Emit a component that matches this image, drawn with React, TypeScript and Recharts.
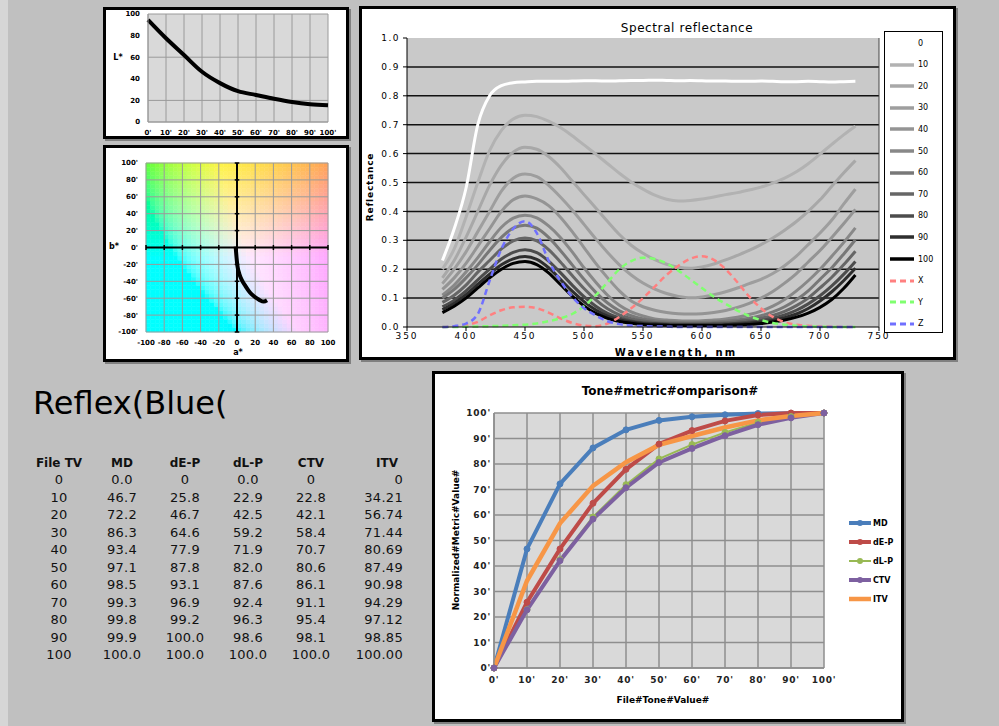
import React from 'react';
import {
  CartesianGrid,
  ComposedChart,
  Line,
  LineChart,
  ReferenceArea,
  ReferenceLine,
  XAxis,
  YAxis,
} from 'recharts';

const FONT = '"DejaVu Sans", Verdana, sans-serif';

// tone steps shared by every panel
const TONE_VALUES = [0, 10, 20, 30, 40, 50, 60, 70, 80, 90, 100];

// L* per tone step (top-left panel)
const L_STAR = [94.5, 77.5, 62, 46.5, 36, 28.5, 25, 21.5, 18.5, 16.5, 15.5];

// a*b* trace per tone step
const A_STAR = [-1.5, -0.5, 0.5, 2.5, 5.5, 9.5, 14, 19, 24.5, 29.5, 33];
const B_STAR = [1, -12, -22, -31, -39, -46, -53, -58, -62, -64, -62.5];
const AB_TICKS = [-100, -80, -60, -40, -20, 0, 20, 40, 60, 80, 100];

// spectral reflectance, 380-730 nm
const WAVELENGTHS = [
  380, 390, 400, 410, 420, 430, 440, 450, 460, 470, 480, 490, 500, 510, 520, 530, 540, 550,
  560, 570, 580, 590, 600, 610, 620, 630, 640, 650, 660, 670, 680, 690, 700, 710, 720, 730,
];
const REFL_0 = [0.23, 0.34, 0.48, 0.7, 0.8, 0.835, 0.845, 0.848, 0.85, 0.85, 0.85, 0.851, 0.852, 0.852, 0.851, 0.852, 0.853, 0.853, 0.854, 0.853, 0.852, 0.853, 0.852, 0.851, 0.851, 0.85, 0.85, 0.851, 0.85, 0.849, 0.849, 0.85, 0.849, 0.848, 0.849, 0.85];
const REFL_10 = [0.2, 0.27, 0.38, 0.5, 0.61, 0.68, 0.72, 0.733, 0.728, 0.712, 0.69, 0.662, 0.63, 0.598, 0.565, 0.532, 0.502, 0.477, 0.456, 0.442, 0.436, 0.438, 0.443, 0.45, 0.458, 0.465, 0.474, 0.484, 0.498, 0.515, 0.537, 0.565, 0.598, 0.632, 0.665, 0.695];
const REFL_20 = [0.17, 0.23, 0.31, 0.4, 0.49, 0.56, 0.605, 0.622, 0.615, 0.59, 0.552, 0.505, 0.458, 0.412, 0.365, 0.32, 0.283, 0.255, 0.233, 0.217, 0.207, 0.203, 0.208, 0.218, 0.232, 0.248, 0.265, 0.285, 0.308, 0.335, 0.365, 0.4, 0.44, 0.487, 0.533, 0.576];
const REFL_30 = [0.15, 0.2, 0.26, 0.33, 0.4, 0.47, 0.515, 0.529, 0.52, 0.49, 0.45, 0.405, 0.355, 0.305, 0.258, 0.215, 0.18, 0.152, 0.131, 0.116, 0.106, 0.101, 0.104, 0.112, 0.122, 0.135, 0.15, 0.165, 0.185, 0.212, 0.245, 0.285, 0.325, 0.37, 0.425, 0.477];
const REFL_40 = [0.13, 0.17, 0.22, 0.28, 0.34, 0.4, 0.44, 0.453, 0.443, 0.42, 0.38, 0.33, 0.275, 0.22, 0.17, 0.125, 0.09, 0.07, 0.058, 0.05, 0.046, 0.045, 0.046, 0.05, 0.057, 0.068, 0.082, 0.1, 0.123, 0.152, 0.185, 0.225, 0.265, 0.31, 0.357, 0.407];
const REFL_50 = [0.11, 0.145, 0.19, 0.24, 0.295, 0.345, 0.377, 0.387, 0.378, 0.35, 0.31, 0.26, 0.205, 0.155, 0.11, 0.075, 0.052, 0.038, 0.028, 0.024, 0.022, 0.021, 0.022, 0.024, 0.028, 0.034, 0.043, 0.055, 0.072, 0.095, 0.125, 0.16, 0.2, 0.245, 0.292, 0.343];
const REFL_60 = [0.1, 0.13, 0.17, 0.215, 0.265, 0.31, 0.342, 0.352, 0.342, 0.31, 0.265, 0.215, 0.165, 0.12, 0.083, 0.056, 0.039, 0.028, 0.022, 0.018, 0.016, 0.015, 0.016, 0.017, 0.02, 0.024, 0.03, 0.039, 0.052, 0.07, 0.094, 0.125, 0.165, 0.205, 0.252, 0.302];
const REFL_70 = [0.085, 0.11, 0.145, 0.19, 0.23, 0.27, 0.298, 0.308, 0.298, 0.268, 0.225, 0.178, 0.133, 0.094, 0.063, 0.042, 0.029, 0.021, 0.016, 0.013, 0.012, 0.012, 0.012, 0.013, 0.015, 0.018, 0.023, 0.03, 0.04, 0.054, 0.074, 0.1, 0.135, 0.172, 0.215, 0.262];
const REFL_80 = [0.07, 0.093, 0.125, 0.163, 0.2, 0.235, 0.258, 0.267, 0.257, 0.228, 0.188, 0.145, 0.105, 0.072, 0.047, 0.031, 0.021, 0.015, 0.012, 0.01, 0.009, 0.009, 0.009, 0.01, 0.011, 0.013, 0.017, 0.022, 0.03, 0.042, 0.058, 0.08, 0.108, 0.142, 0.182, 0.227];
const REFL_90 = [0.06, 0.082, 0.112, 0.148, 0.183, 0.215, 0.236, 0.244, 0.234, 0.205, 0.165, 0.124, 0.088, 0.059, 0.038, 0.025, 0.017, 0.012, 0.01, 0.008, 0.007, 0.007, 0.007, 0.007, 0.008, 0.01, 0.013, 0.017, 0.023, 0.032, 0.045, 0.064, 0.09, 0.122, 0.16, 0.203];
const REFL_100 = [0.05, 0.072, 0.1, 0.135, 0.17, 0.2, 0.22, 0.227, 0.216, 0.187, 0.147, 0.107, 0.073, 0.047, 0.03, 0.019, 0.013, 0.009, 0.007, 0.006, 0.005, 0.005, 0.005, 0.005, 0.006, 0.007, 0.009, 0.012, 0.017, 0.024, 0.034, 0.048, 0.068, 0.095, 0.133, 0.18];
const CMF_X = [0, 0.002, 0.006, 0.018, 0.04, 0.058, 0.068, 0.07, 0.065, 0.05, 0.03, 0.014, 0.005, 0.003, 0.012, 0.035, 0.065, 0.1, 0.14, 0.18, 0.212, 0.236, 0.245, 0.232, 0.2, 0.155, 0.105, 0.065, 0.035, 0.017, 0.008, 0.004, 0.002, 0.001, 0, 0];
const CMF_Y = [0, 0, 0.001, 0.002, 0.003, 0.004, 0.006, 0.008, 0.012, 0.02, 0.03, 0.045, 0.072, 0.11, 0.155, 0.2, 0.228, 0.24, 0.235, 0.22, 0.195, 0.165, 0.135, 0.105, 0.08, 0.057, 0.038, 0.024, 0.014, 0.008, 0.004, 0.002, 0.001, 0, 0, 0];
const CMF_Z = [0, 0.003, 0.012, 0.045, 0.16, 0.27, 0.34, 0.366, 0.325, 0.23, 0.16, 0.105, 0.065, 0.04, 0.02, 0.01, 0.005, 0.003, 0.002, 0.001, 0, 0, 0, 0, 0, 0, 0, 0, 0, 0, 0, 0, 0, 0, 0, 0];

// tone metric table (also the bottom chart)
const MD = [0, 46.7, 72.2, 86.3, 93.4, 97.1, 98.5, 99.3, 99.8, 99.9, 100];
const DE_P = [0, 25.8, 46.7, 64.6, 77.9, 87.8, 93.1, 96.9, 99.2, 100, 100];
const DL_P = [0, 22.9, 42.5, 59.2, 71.9, 82.0, 87.6, 92.4, 96.3, 98.6, 100];
const CTV = [0, 22.8, 42.1, 58.4, 70.7, 80.6, 86.1, 91.1, 95.4, 98.1, 100];
const ITV = [0, 34.21, 56.74, 71.44, 80.69, 87.49, 90.98, 94.29, 97.12, 98.85, 100];

const SPECTRAL_SERIES = [
  { key: 'r0', name: '0', values: REFL_0, color: '#ffffff', width: 3, dash: undefined },
  { key: 'r10', name: '10', values: REFL_10, color: '#b2b2b2', width: 3, dash: undefined },
  { key: 'r20', name: '20', values: REFL_20, color: '#a8a8a8', width: 3, dash: undefined },
  { key: 'r30', name: '30', values: REFL_30, color: '#9e9e9e', width: 3, dash: undefined },
  { key: 'r40', name: '40', values: REFL_40, color: '#949494', width: 3, dash: undefined },
  { key: 'r50', name: '50', values: REFL_50, color: '#888888', width: 3, dash: undefined },
  { key: 'r60', name: '60', values: REFL_60, color: '#787878', width: 3, dash: undefined },
  { key: 'r70', name: '70', values: REFL_70, color: '#666666', width: 3, dash: undefined },
  { key: 'r80', name: '80', values: REFL_80, color: '#4c4c4c', width: 3, dash: undefined },
  { key: 'r90', name: '90', values: REFL_90, color: '#2e2e2e', width: 3, dash: undefined },
  { key: 'r100', name: '100', values: REFL_100, color: '#000000', width: 3, dash: undefined },
  { key: 'x', name: 'X', values: CMF_X, color: '#ff8080', width: 2.5, dash: '6 4' },
  { key: 'y', name: 'Y', values: CMF_Y, color: '#80ff70', width: 2.5, dash: '6 4' },
  { key: 'z', name: 'Z', values: CMF_Z, color: '#7070ff', width: 2.5, dash: '6 4' },
];

const TONE_SERIES = [
  { key: 'md', name: 'MD', values: MD, color: '#4a7ebb', width: 4, dots: true },
  { key: 'dep', name: 'dE-P', values: DE_P, color: '#be4b48', width: 4, dots: true },
  { key: 'dlp', name: 'dL-P', values: DL_P, color: '#98b954', width: 2, dots: true },
  { key: 'ctv', name: 'CTV', values: CTV, color: '#7d60a0', width: 4, dots: true },
  { key: 'itv', name: 'ITV', values: ITV, color: '#f79646', width: 4.5, dots: false },
];

const TABLE_COLUMNS = [
  { title: 'File TV', values: TONE_VALUES, digits: 0, zero: '0', center: 59 },
  { title: 'MD', values: MD, digits: 1, zero: '0.0', center: 122 },
  { title: 'dE-P', values: DE_P, digits: 1, zero: '0', center: 185 },
  { title: 'dL-P', values: DL_P, digits: 1, zero: '0.0', center: 248 },
  { title: 'CTV', values: CTV, digits: 1, zero: '0', center: 311 },
  { title: 'ITV', values: ITV, digits: 2, zero: '0', center: 387 },
];

const lData = TONE_VALUES.map((tv, i) => ({ tv, l: L_STAR[i] }));
const abData = TONE_VALUES.map((tv, i) => ({ tv, a: A_STAR[i], b: B_STAR[i] }));
const spectralData = WAVELENGTHS.map((w, i) => {
  const row: Record<string, number> = { w };
  SPECTRAL_SERIES.forEach((s) => (row[s.key] = s.values[i]));
  return row;
});
const toneData = TONE_VALUES.map((tv, i) => {
  const row: Record<string, number> = { tv };
  TONE_SERIES.forEach((s) => (row[s.key] = s.values[i]));
  return row;
});

// CIELAB -> sRGB for the a*b* background
function labColor(L: number, a: number, b: number) {
  const fy = (L + 16) / 116;
  const fx = fy + a / 500;
  const fz = fy - b / 200;
  const inv = (t: number) => (t * t * t > 0.008856 ? t * t * t : (t - 16 / 116) / 7.787);
  const X = 0.95047 * inv(fx);
  const Y = inv(fy);
  const Z = 1.08883 * inv(fz);
  const lin = [
    3.2406 * X - 1.5372 * Y - 0.4986 * Z,
    -0.9689 * X + 1.8758 * Y + 0.0415 * Z,
    0.0557 * X - 0.204 * Y + 1.057 * Z,
  ];
  const c = lin.map((v) => {
    const g = v <= 0.0031308 ? 12.92 * v : 1.055 * Math.pow(Math.max(v, 0), 1 / 2.4) - 0.055;
    return Math.round(Math.min(1, Math.max(0, g)) * 255);
  });
  return `rgb(${c[0]},${c[1]},${c[2]})`;
}

const abCells: { x1: number; x2: number; y1: number; y2: number; fill: string }[] = [];
for (let a = -100; a < 100; a += 5) {
  for (let b = -100; b < 100; b += 5) {
    abCells.push({ x1: a, x2: a + 5, y1: b, y2: b + 5, fill: labColor(94, (a + 2.5) * 0.8, (b + 2.5) * 0.8) });
  }
}

const panel = (left: number, top: number, width: number, height: number): React.CSSProperties => ({
  position: 'absolute',
  left,
  top,
  width,
  height,
  boxSizing: 'border-box',
  border: '3px solid #000',
  background: '#fff',
  boxShadow: '2px 2px 0 #808080',
});

function Txt({
  x,
  y,
  children,
  size = 10,
  weight = 'normal',
  rotate = 0,
  spacing = 0,
  anchor = 'middle',
}: {
  x: number;
  y: number;
  children: React.ReactNode;
  size?: number;
  weight?: string;
  rotate?: number;
  spacing?: number;
  anchor?: 'middle' | 'start' | 'end';
}) {
  const tx = anchor === 'middle' ? '-50%' : anchor === 'end' ? '-100%' : '0';
  return (
    <div
      style={{
        position: 'absolute',
        left: x,
        top: y,
        transform: `translate(${tx}, -50%) rotate(${rotate}deg)`,
        fontSize: size,
        fontWeight: weight as any,
        letterSpacing: spacing,
        whiteSpace: 'nowrap',
        lineHeight: 1,
        color: '#000',
        fontFamily: FONT,
      }}
    >
      {children}
    </div>
  );
}

const smallTick = { fontSize: 7, fill: '#000', fontWeight: 'bold', fontFamily: FONT };

export default function App() {
  return (
    <div
      style={{
        position: 'absolute',
        left: 0,
        top: 0,
        width: 999,
        height: 726,
        background: '#c0c0c0',
        overflow: 'hidden',
        fontFamily: FONT,
      }}
    >
      <div style={{ position: 'absolute', left: 0, top: 0, width: 8, height: 726, background: '#d6d6d6' }} />

      {/* L* vs tone */}
      <div style={panel(103, 7, 246, 132)}>
        <LineChart width={240} height={126} data={lData} margin={{ top: 4, right: 18, bottom: 2, left: 0 }}>
          <CartesianGrid fill="#d9d9d9" stroke="#9a9a9a" />
          <XAxis
            dataKey="tv"
            type="number"
            domain={[0, 100]}
            ticks={TONE_VALUES}
            interval={0}
            tickFormatter={(v) => `${v}'`}
            tick={smallTick}
            height={12}
            axisLine={{ stroke: '#9a9a9a' }}
            tickLine={false}
          />
          <YAxis
            type="number"
            domain={[0, 100]}
            ticks={[0, 20, 40, 60, 80, 100]}
            width={42}
            tick={smallTick}
            axisLine={{ stroke: '#9a9a9a' }}
            tickLine={false}
          />
          <Line dataKey="l" type="monotone" stroke="#000" strokeWidth={4} dot={false} isAnimationActive={false} />
        </LineChart>
      </div>
      <Txt x={118} y={58} size={8} weight="bold">L*</Txt>

      {/* a*b* plane */}
      <div style={panel(103, 145, 246, 217)}>
        <ComposedChart width={240} height={211} data={abData} margin={{ top: 15, right: 18, bottom: 2, left: 0 }}>
          {abCells.map((c, i) => (
            <ReferenceArea
              key={`c${i}`}
              x1={c.x1}
              x2={c.x2}
              y1={c.y1}
              y2={c.y2}
              fill={c.fill}
              fillOpacity={1}
              stroke={c.fill}
              strokeWidth={0.5}
            />
          ))}
          {AB_TICKS.filter((t) => t !== 0).map((t) => (
            <ReferenceLine key={`gx${t}`} x={t} stroke="#9a9a9a" strokeWidth={1} />
          ))}
          {AB_TICKS.filter((t) => t !== 0).map((t) => (
            <ReferenceLine key={`gy${t}`} y={t} stroke="#9a9a9a" strokeWidth={1} />
          ))}
          <ReferenceLine x={0} stroke="#000" strokeWidth={2} />
          <ReferenceLine y={0} stroke="#000" strokeWidth={2} />
          {AB_TICKS.filter((t) => t !== 0).map((t) => (
            <ReferenceLine key={`ty${t}`} segment={[{ x: -2.5, y: t }, { x: 2.5, y: t }]} stroke="#000" strokeWidth={1.5} />
          ))}
          {AB_TICKS.filter((t) => t !== 0).map((t) => (
            <ReferenceLine key={`tx${t}`} segment={[{ x: t, y: -3 }, { x: t, y: 3 }]} stroke="#000" strokeWidth={1.5} />
          ))}
          <XAxis
            dataKey="a"
            type="number"
            domain={[-100, 100]}
            ticks={AB_TICKS}
            interval={0}
            tick={smallTick}
            height={25}
            axisLine={false}
            tickLine={false}
          />
          <YAxis
            type="number"
            domain={[-100, 100]}
            ticks={AB_TICKS}
            interval={0}
            tickFormatter={(v) => `${v}'`}
            width={40}
            tick={smallTick}
            axisLine={false}
            tickLine={false}
          />
          <Line dataKey="b" type="monotone" stroke="#000" strokeWidth={4} dot={false} isAnimationActive={false} />
        </ComposedChart>
      </div>
      <Txt x={114} y={247} size={8} weight="bold">b*</Txt>
      <Txt x={238} y={353} size={8} weight="bold">a*</Txt>

      {/* spectral reflectance */}
      <div style={panel(359, 6, 597, 354)}>
        <LineChart width={591} height={348} data={spectralData} margin={{ top: 29, right: 64, bottom: 2, left: 0 }}>
          <CartesianGrid
            fill="#c9c9c9"
            stroke="#111"
            strokeWidth={1.5}
            vertical={false}
            horizontalValues={[0.1, 0.2, 0.3, 0.4, 0.5, 0.6, 0.7, 0.8, 0.9]}
          />
          <XAxis
            dataKey="w"
            type="number"
            domain={[350, 750]}
            ticks={[350, 400, 450, 500, 550, 600, 650, 700, 750]}
            interval={0}
            height={28}
            tick={{ fontSize: 9, fill: '#000', letterSpacing: 2, fontFamily: FONT }}
            tickSize={4}
            tickMargin={2}
            axisLine={{ stroke: '#000' }}
            tickLine={{ stroke: '#000' }}
          />
          <YAxis
            type="number"
            domain={[0, 1]}
            ticks={[0, 0.1, 0.2, 0.3, 0.4, 0.5, 0.6, 0.7, 0.8, 0.9, 1]}
            interval={0}
            tickFormatter={(v) => v.toFixed(1)}
            width={45}
            tick={{ fontSize: 9, fill: '#000', letterSpacing: 1.5, fontFamily: FONT }}
            tickSize={4}
            tickMargin={3}
            axisLine={{ stroke: '#000' }}
            tickLine={{ stroke: '#000' }}
          />
          <YAxis
            yAxisId="r"
            orientation="right"
            type="number"
            domain={[0, 8]}
            ticks={[0, 1, 2, 3, 4, 5, 6, 7, 8]}
            width={10}
            tick={false}
            tickSize={4}
            axisLine={{ stroke: '#444' }}
            tickLine={{ stroke: '#444' }}
          />
          {SPECTRAL_SERIES.map((s) => (
            <Line
              key={s.key}
              dataKey={s.key}
              type="monotone"
              stroke={s.color}
              strokeWidth={s.width}
              strokeDasharray={s.dash}
              dot={false}
              isAnimationActive={false}
            />
          ))}
        </LineChart>
      </div>
      <Txt x={687} y={28} size={12} spacing={0.6}>Spectral reflectance</Txt>
      <Txt x={676} y={353} size={10} weight="bold" spacing={2.2}>Wavelength, nm</Txt>
      <Txt x={370} y={187} size={9} weight="bold" rotate={-90} spacing={0.8}>Reflectance</Txt>
      <div
        style={{
          position: 'absolute',
          left: 884,
          top: 31,
          width: 59,
          height: 302,
          boxSizing: 'border-box',
          border: '1.5px solid #000',
          background: '#fff',
        }}
      >
        {SPECTRAL_SERIES.map((s, i) => (
          <div key={s.key} style={{ position: 'absolute', left: 4, top: 4 + i * 21.6, height: 14, display: 'flex', alignItems: 'center' }}>
            <svg width={26} height={14}>
              <line x1={1} y1={7} x2={25} y2={7} stroke={s.color} strokeWidth={s.width + 0.5} strokeDasharray={s.dash} />
            </svg>
            <span style={{ fontSize: 8, marginLeft: 3, fontFamily: FONT }}>{s.name}</span>
          </div>
        ))}
      </div>

      {/* table */}
      <div style={{ position: 'absolute', left: 33, top: 384, fontSize: 32, lineHeight: '38px', fontFamily: FONT, color: '#000' }}>
        Reflex(Blue(
      </div>
      {TABLE_COLUMNS.map((col, ci) => (
        <div key={col.title} style={{ position: 'absolute', left: col.center - 40, top: 455, width: 80, fontFamily: FONT, color: '#111' }}>
          <div style={{ textAlign: 'center', fontSize: 12, fontWeight: 'bold', lineHeight: '17px', height: 16 }}>{col.title}</div>
          {col.values.map((v, i) => (
            <div
              key={i}
              style={{
                fontSize: 13,
                lineHeight: '17.5px',
                textAlign: ci === 5 ? 'right' : 'center',
                paddingRight: ci === 5 ? 24 : 0,
                letterSpacing: 0.3,
              }}
            >
              {v === 0 ? col.zero : v.toFixed(col.digits)}
            </div>
          ))}
        </div>
      ))}

      {/* tone metric comparison */}
      <div style={panel(432, 371, 472, 351)}>
        <LineChart width={466} height={345} data={toneData} margin={{ top: 39, right: 77, bottom: 0, left: 0 }}>
          <CartesianGrid fill="#d9d9d9" stroke="#8e8e8e" strokeWidth={1.5} />
          <XAxis
            dataKey="tv"
            type="number"
            domain={[0, 100]}
            ticks={TONE_VALUES}
            interval={0}
            tickFormatter={(v) => `${v}'`}
            height={51}
            tick={{ fontSize: 9, fill: '#222', fontWeight: 'bold', letterSpacing: 0.8, fontFamily: FONT }}
            tickSize={0}
            tickMargin={9}
            axisLine={{ stroke: '#8e8e8e', strokeWidth: 1.5 }}
            tickLine={false}
          />
          <YAxis
            type="number"
            domain={[0, 100]}
            ticks={TONE_VALUES}
            interval={0}
            tickFormatter={(v) => `${v}'`}
            width={59}
            tick={{ fontSize: 9, fill: '#222', fontWeight: 'bold', letterSpacing: 0.8, fontFamily: FONT }}
            tickSize={0}
            tickMargin={3}
            axisLine={{ stroke: '#8e8e8e', strokeWidth: 1.5 }}
            tickLine={false}
          />
          {TONE_SERIES.map((s) => (
            <Line
              key={s.key}
              dataKey={s.key}
              type="linear"
              stroke={s.color}
              strokeWidth={s.width}
              dot={s.dots ? { r: 3, fill: s.color, stroke: s.color, strokeWidth: 1 } : false}
              isAnimationActive={false}
            />
          ))}
        </LineChart>
      </div>
      <Txt x={670} y={391} size={12} weight="bold">Tone#metric#omparison#</Txt>
      <Txt x={456} y={540} size={9} weight="bold" rotate={-90}>Normalized#Metric#Value#</Txt>
      <Txt x={663} y={700} size={9} weight="bold">File#Tone#Value#</Txt>
      {TONE_SERIES.map((s, i) => (
        <div key={s.key} style={{ position: 'absolute', left: 848, top: 517 + i * 19, height: 12, display: 'flex', alignItems: 'center' }}>
          <svg width={24} height={12}>
            <line x1={1} y1={6} x2={23} y2={6} stroke={s.color} strokeWidth={s.width} />
            {s.dots && <circle cx={12} cy={6} r={3} fill={s.color} />}
          </svg>
          <span style={{ fontSize: 8, fontWeight: 'bold', marginLeft: 1, fontFamily: FONT }}>{s.name}</span>
        </div>
      ))}
    </div>
  );
}
